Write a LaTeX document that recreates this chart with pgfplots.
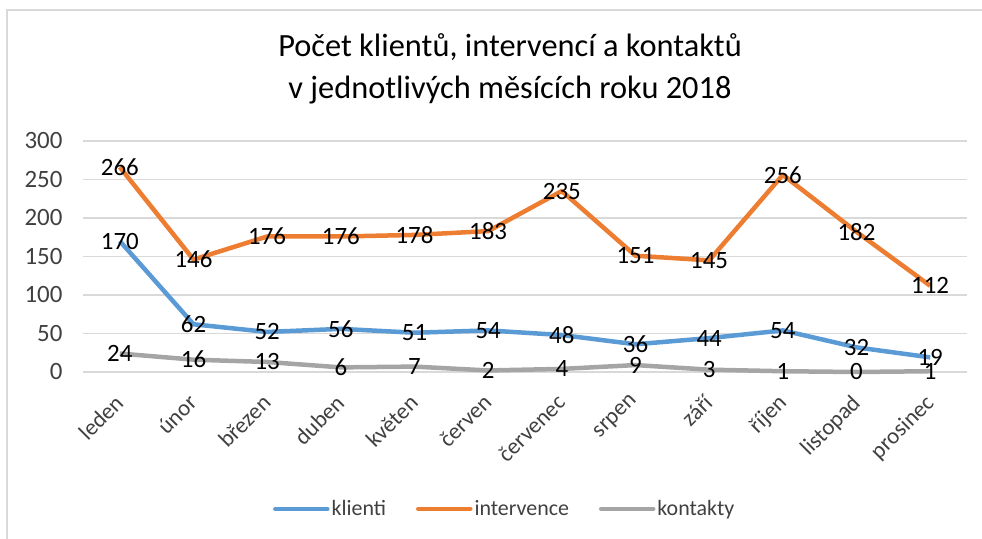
\documentclass[border=0pt]{standalone}
\usepackage{pgfplots}
\pgfplotsset{compat=1.18}
\usepackage{fontspec}
\setmainfont{Carlito}
\definecolor{cblue}{HTML}{5B9BD5}
\definecolor{corange}{HTML}{ED7D31}
\definecolor{cgray}{HTML}{A5A5A5}
\definecolor{ctext}{HTML}{404040}
\begin{document}
\begin{tikzpicture}
\useasboundingbox (0bp,0bp) rectangle (982bp,539bp);
\draw[black!15, line width=1.5bp] (7bp,-10bp) rectangle (995bp,529bp);
\node[align=center, font=\fontsize{32.5}{42}\selectfont, text=black] at (510bp,470bp) {Počet klientů, intervencí a kontaktů\\v jednotlivých měsících roku 2018};
\begin{axis}[
  at={(83bp,167bp)}, anchor=south west, scale only axis,
  width=884bp, height=231bp,
  xmin=-0.5, xmax=11.5, ymin=0, ymax=300,
  xtick={0,...,11},
  xticklabels={leden,únor,březen,duben,květen,červen,červenec,srpen,září,říjen,listopad,prosinec},
  ytick={0,50,...,300},
  ymajorgrids, grid style={draw=black!15, line width=1.5bp},
  axis line style={draw=none}, major tick length=0pt,
  clip=false,
  /pgf/number format/assume math mode=true,
  x tick label style={rotate=45, anchor=north east, font=\fontsize{23}{26}\selectfont, text=ctext, xshift=-16bp, yshift=-7bp},
  y tick label style={font=\fontsize{25}{28}\selectfont, text=ctext, xshift=-17bp},
  nodes near coords,
  every node near coord/.style={anchor=center, font=\fontsize{25}{25}\selectfont, text=black},
  legend columns=3,
  legend style={at={(0.477,-0.593)}, anchor=center, draw=none, fill=none,
    font=\fontsize{22}{22}\selectfont, text=ctext,
    /tikz/every even column/.append style={column sep=28bp}},
  legend image code/.code={\draw[#1, line width=4.5bp, line cap=round] (0bp,0bp) -- (52bp,0bp);},
  every axis plot/.append style={line width=4.5bp, line join=round, mark=none},
]
\addplot[color=cblue] coordinates {(0,170) (1,62) (2,52) (3,56) (4,51) (5,54) (6,48) (7,36) (8,44) (9,54) (10,32) (11,19)};
\addlegendentry{klienti}
\addplot[color=corange] coordinates {(0,266) (1,146) (2,176) (3,176) (4,178) (5,183) (6,235) (7,151) (8,145) (9,256) (10,182) (11,112)};
\addlegendentry{intervence}
\addplot[color=cgray] coordinates {(0,24) (1,16) (2,13) (3,6) (4,7) (5,2) (6,4) (7,9) (8,3) (9,1) (10,0) (11,1)};
\addlegendentry{kontakty}
\end{axis}
\end{tikzpicture}
\end{document}
